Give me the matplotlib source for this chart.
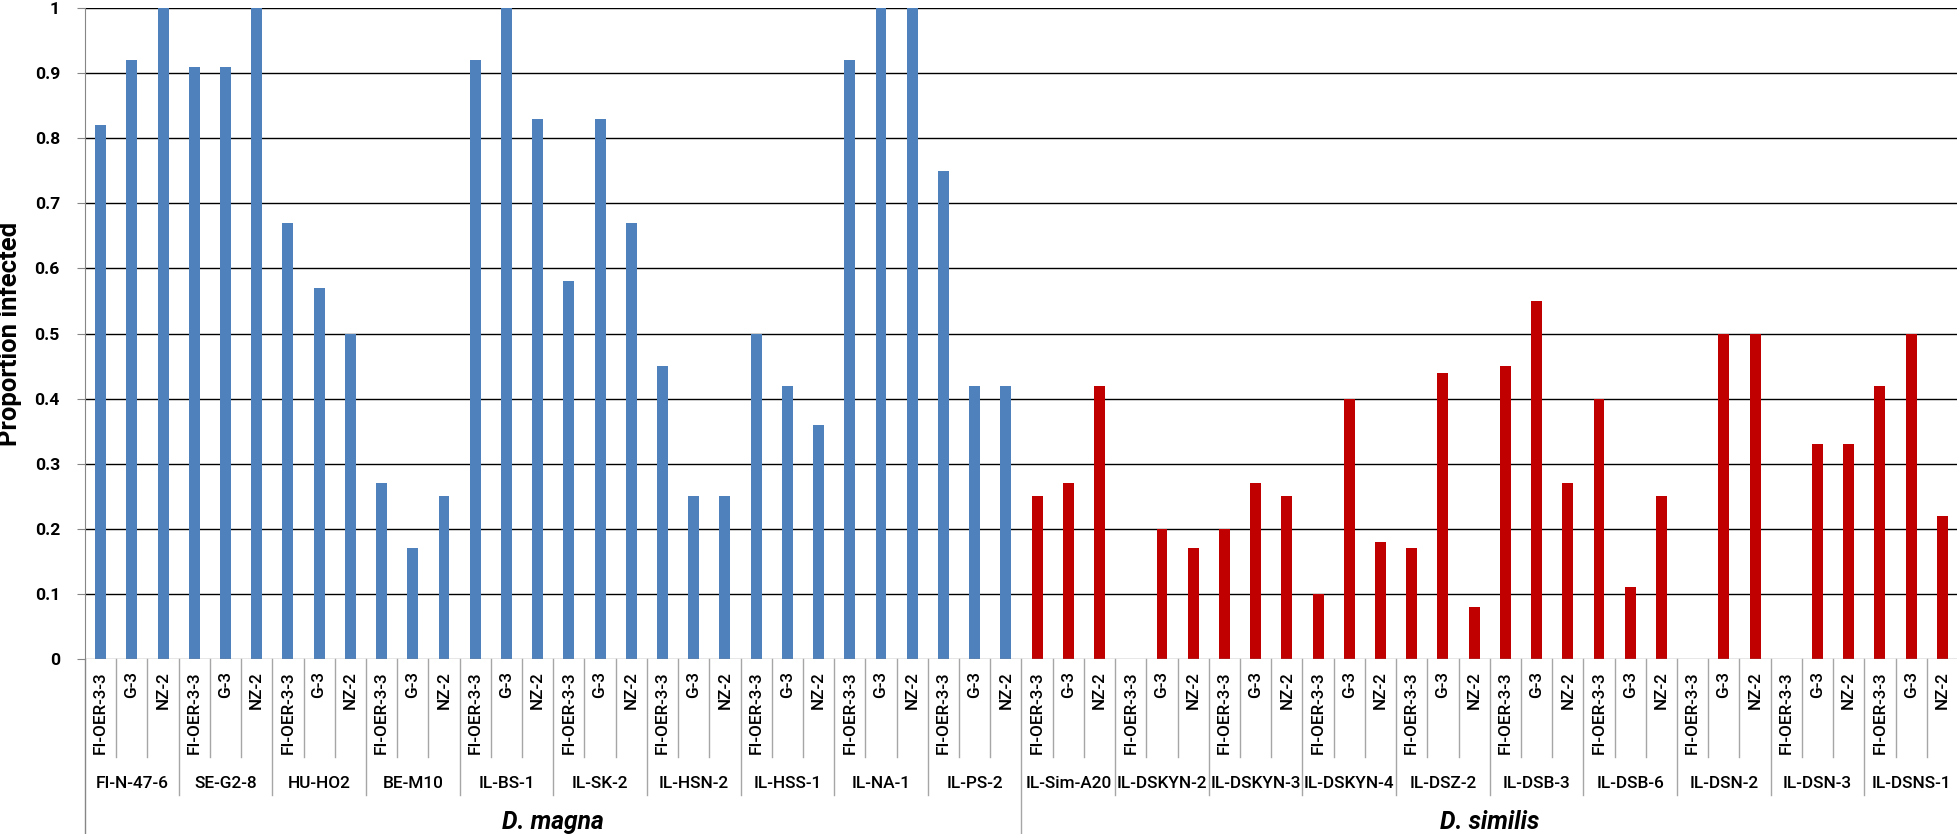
import matplotlib
matplotlib.use("Agg")
import matplotlib.pyplot as plt
import numpy as np

# ---- data ----
treatments = ["FI-OER-3-3", "G-3", "NZ-2"]
magna_groups = ["FI-N-47-6", "SE-G2-8", "HU-HO2", "BE-M10", "IL-BS-1",
                "IL-SK-2", "IL-HSN-2", "IL-HSS-1", "IL-NA-1", "IL-PS-2"]
similis_groups = ["IL-Sim-A20", "IL-DSKYN-2", "IL-DSKYN-3", "IL-DSKYN-4", "IL-DSZ-2",
                  "IL-DSB-3", "IL-DSB-6", "IL-DSN-2", "IL-DSN-3", "IL-DSNS-1"]
species = ["D. magna", "D. similis"]

magna_values = [
    [0.82, 0.92, 1.00],
    [0.91, 0.91, 1.00],
    [0.67, 0.57, 0.50],
    [0.27, 0.17, 0.25],
    [0.92, 1.00, 0.83],
    [0.58, 0.83, 0.67],
    [0.45, 0.25, 0.25],
    [0.50, 0.42, 0.36],
    [0.92, 1.00, 1.00],
    [0.75, 0.42, 0.42],
]
similis_values = [
    [0.25, 0.27, 0.42],
    [0.00, 0.20, 0.17],
    [0.20, 0.27, 0.25],
    [0.10, 0.40, 0.18],
    [0.17, 0.44, 0.08],
    [0.45, 0.55, 0.27],
    [0.40, 0.11, 0.25],
    [0.00, 0.50, 0.50],
    [0.00, 0.33, 0.33],
    [0.42, 0.50, 0.22],
]
yticks = [0, 0.1, 0.2, 0.3, 0.4, 0.5, 0.6, 0.7, 0.8, 0.9, 1]
ytick_labels = ["0", "0.1", "0.2", "0.3", "0.4", "0.5", "0.6", "0.7", "0.8", "0.9", "1"]

# ---- style ----
BLUE = "#4F81BD"
RED = "#C00000"
AXGRAY = "#868686"
SEPGRAY = "#A6A6A6"
MAIN = ["Roboto", "DejaVu Sans"]
plt.rcParams["font.family"] = MAIN

W, H = 1958, 834
fig = plt.figure(figsize=(W / 100, H / 100), dpi=100)
x0_px, top_px, zero_px = 85, 8, 659
ax = fig.add_axes([x0_px / W, (H - zero_px) / H, 1 - x0_px / W, (zero_px - top_px) / H])
axh = zero_px - top_px


def yfrac(px):
    return -(px - zero_px) / axh


all_groups = magna_groups + similis_groups
all_values = magna_values + similis_values
n_t = len(treatments)
n_bars = len(all_groups) * n_t
xs = np.arange(n_bars)
heights = [v for grp in all_values for v in grp]
colors = [BLUE] * (len(magna_groups) * n_t) + [RED] * (len(similis_groups) * n_t)

ax.bar(xs, heights, width=0.35, color=colors, zorder=3)

ax.set_xlim(-0.5, n_bars - 0.5)
ax.set_ylim(0, 1)
ax.set_yticks(yticks)
tick_texts = ax.set_yticklabels(ytick_labels, fontsize=12, fontweight="bold")
ax.tick_params(axis="y", length=6, color=AXGRAY, pad=12)
ax.set_xticks([])
for s in ["top", "right", "bottom"]:
    ax.spines[s].set_visible(False)
ax.spines["left"].set_color(AXGRAY)
ax.spines["left"].set_bounds(0, 1)

# gridlines
for t in yticks[1:]:
    ax.axhline(t, color="black", lw=1.0, zorder=1)
ax.axhline(0, color=AXGRAY, lw=1.0, zorder=4)

ylab = fig.text(10 / W, 1 - (top_px + zero_px) / 2 / H, "Proportion infected",
                rotation=90, ha="center", va="center", fontsize=16, fontweight="bold")

xt = ax.get_xaxis_transform()
# left axis extension to bottom
ax.plot([-0.5, -0.5], [0, yfrac(834)], transform=xt, color=AXGRAY, lw=1.0, clip_on=False)

# level-1 labels and separators
lvl1 = []
for i in range(n_bars):
    lvl1.append(ax.text(i, yfrac(671), treatments[i % n_t], rotation=90, ha="center",
                        va="top", fontsize=12, fontweight="medium", transform=xt))
    if i > 0:
        if i % (n_t * len(magna_groups)) == 0:
            bottom = 834
        elif i % n_t == 0:
            bottom = 795
        else:
            bottom = 757
        ax.plot([i - 0.5, i - 0.5], [0, yfrac(bottom)], transform=xt,
                color=SEPGRAY, lw=1.0, clip_on=False)

# level-2 labels
lvl2 = []
for g, name in enumerate(all_groups):
    cx = g * n_t + (n_t - 1) / 2
    lvl2.append(ax.text(cx, yfrac(783), name, ha="center", va="center", fontsize=13,
                        fontweight="medium", transform=xt))

# level-3 labels
lvl3 = []
n_sp = n_t * len(magna_groups)
for k, sp in enumerate(species):
    cx = k * n_sp + (n_sp - 1) / 2
    lvl3.append(ax.text(cx, yfrac(822), sp, ha="center", va="center", fontsize=14,
                        fontweight="bold", fontstyle="italic", transform=xt))

# size text to match the reference's measured text lengths (pixels)
fig.canvas.draw()
renderer = fig.canvas.get_renderer()


def scale_group(texts, ref, target, dim):
    bb = ref.get_window_extent(renderer)
    cur = bb.width if dim == "w" else bb.height
    f = target / cur
    for t in texts:
        t.set_fontsize(t.get_fontsize() * f)


scale_group(lvl1, lvl1[0], 83, "h")
scale_group(lvl2, lvl2[0], 73, "w")
scale_group(lvl3, lvl3[0], 102, "w")
scale_group([ylab], ylab, 225, "h")
scale_group(list(tick_texts), tick_texts[9], 25, "w")

fig.savefig("out.png", dpi=100)
